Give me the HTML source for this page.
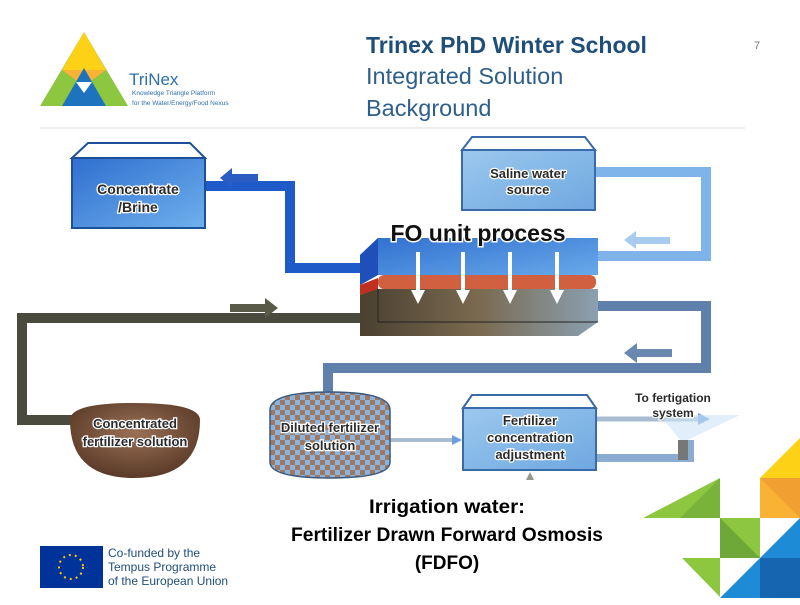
<!DOCTYPE html>
<html><head><meta charset="utf-8"><style>
body{margin:0;width:800px;height:600px;background:#fff;overflow:hidden;font-family:"Liberation Sans",sans-serif}
.lb{fill:#2a2a2a;stroke:#fff;stroke-width:2.5;paint-order:stroke;font-weight:bold}
</style></head><body>
<svg width="800" height="600" viewBox="0 0 800 600" xmlns="http://www.w3.org/2000/svg">
<defs>
<linearGradient id="bl" x1="0" y1="0" x2="1" y2="1"><stop offset="0" stop-color="#2f6fd0"/><stop offset="1" stop-color="#6fb0ec"/></linearGradient>
<linearGradient id="lb" x1="0" y1="0" x2="1" y2="1"><stop offset="0" stop-color="#9cc8ee"/><stop offset="1" stop-color="#6ea8e0"/></linearGradient>
<linearGradient id="br" x1="0" y1="0" x2="1" y2="0"><stop offset="0" stop-color="#4a4030"/><stop offset="0.5" stop-color="#7a6a50"/><stop offset="1" stop-color="#8aa0b0"/></linearGradient>
<radialGradient id="bowl" cx="0.5" cy="0.4" r="0.6"><stop offset="0" stop-color="#9a7055"/><stop offset="1" stop-color="#5a3a28"/></radialGradient>
<pattern id="chk" width="10" height="10" patternUnits="userSpaceOnUse"><rect width="10" height="10" fill="#8ab4e0"/><rect width="5" height="5" fill="#a07860"/><rect x="5" y="5" width="5" height="5" fill="#a07860"/></pattern>
</defs>
<!-- header -->
<polygon points="84,32 40,106 128,106" fill="#8dc63f"/>
<polygon points="84,32 62,70 106,70" fill="#fcd116"/>
<polygon points="62,70 106,70 84,86" fill="#f9b233"/>
<polygon points="62,106 84,68 106,106" fill="#1e73be"/>
<polygon points="76,82 92,82 84,93" fill="#fff"/>
<text x="129" y="85" font-size="17" fill="#2e6fb0">TriNex</text>
<text x="132" y="95" font-size="6.5" fill="#2e6fb0">Knowledge Triangle Platform</text>
<text x="132" y="105" font-size="6.5" fill="#2e6fb0">for the Water/Energy/Food Nexus</text>
<text x="366" y="53" font-size="23" font-weight="bold" fill="#1f4e79">Trinex PhD Winter School</text>
<text x="366" y="84" font-size="23.5" fill="#2e5f8a">Integrated Solution</text>
<text x="366" y="116" font-size="23.5" fill="#2e5f8a">Background</text>
<text x="754" y="49" font-size="11" fill="#777">7</text>
<line x1="40" y1="128" x2="745" y2="128" stroke="#ddd" stroke-width="1"/>
<!-- pipes -->
<polyline points="205,186 290,186 290,268 362,268" fill="none" stroke="#1f5bc8" stroke-width="10"/>
<polyline points="595,172 706,172 706,256 598,256" fill="none" stroke="#7fb4ea" stroke-width="10"/>
<polyline points="362,318 22,318 22,420 90,420" fill="none" stroke="#4b4a3e" stroke-width="10"/>
<polyline points="598,306 706,306 706,368 328,368 328,398" fill="none" stroke="#5f80ab" stroke-width="10"/>
<line x1="390" y1="440" x2="455" y2="440" stroke="#a8bdd0" stroke-width="4"/>
<polygon points="452,435 462,440 452,445" fill="#6a9ee0"/>
<line x1="597" y1="419" x2="700" y2="419" stroke="#a8bdd0" stroke-width="5"/>
<polygon points="698,413 710,419 698,425" fill="#6a9ee0"/>
<polyline points="597,458 690,458 690,440" fill="none" stroke="#8aacd0" stroke-width="8"/>
<!-- flow arrows -->
<rect x="232" y="174" width="26" height="8" fill="#2b5cc4"/><polygon points="232,168 220,178 232,188" fill="#2b5cc4"/>
<rect x="635" y="237" width="35" height="7" fill="#a8ccf0"/><polygon points="636,231 624,240 636,249" fill="#a8ccf0"/>
<rect x="230" y="304" width="36" height="8" fill="#5a5a48"/><polygon points="265,298 278,308 265,318" fill="#5a5a48"/>
<rect x="636" y="349" width="36" height="8" fill="#6a88b0"/><polygon points="637,343 624,353 637,363" fill="#6a88b0"/>
<!-- tanks -->
<rect x="72" y="158" width="133" height="70" fill="url(#bl)" stroke="#1e4f9a" stroke-width="2"/>
<polygon points="72,158 88,143 190,143 205,158" fill="none" stroke="#1e4f9a" stroke-width="2"/>
<text x="138" y="194" font-size="14" text-anchor="middle" class="lb">Concentrate</text>
<text x="138" y="212" font-size="14" text-anchor="middle" class="lb">/Brine</text>
<rect x="462" y="150" width="133" height="60" fill="url(#lb)" stroke="#3a6aa8" stroke-width="2"/>
<polygon points="462,150 472,137 585,137 595,150" fill="none" stroke="#3a6aa8" stroke-width="2"/>
<text x="528" y="178" font-size="13" text-anchor="middle" class="lb">Saline water</text>
<text x="528" y="194" font-size="13" text-anchor="middle" class="lb">source</text>
<!-- FO unit -->
<polygon points="360,255 378,238 598,238 598,275 378,275 360,285" fill="url(#bl)"/>
<polygon points="360,255 378,238 378,275 360,285" fill="#1f4fb8"/>
<rect x="378" y="275" width="218" height="14" rx="6" fill="#d06040"/>
<polygon points="360,285 378,278 378,290 360,295" fill="#c03020"/>
<polygon points="360,295 378,289 598,289 598,322 578,336 360,336" fill="url(#br)"/>
<line x1="378" y1="289" x2="378" y2="322" stroke="#222"/><line x1="378" y1="322" x2="598" y2="322" stroke="#222"/>
<text x="478" y="241" font-size="23" text-anchor="middle" fill="#111" stroke="#fff" stroke-width="3" paint-order="stroke" font-weight="bold">FO unit process</text>
<g fill="#fff">
<rect x="416" y="252" width="4" height="40"/><polygon points="411,290 418,304 425,290"/>
<rect x="461" y="252" width="4" height="40"/><polygon points="456,290 463,304 470,290"/>
<rect x="508" y="252" width="4" height="40"/><polygon points="503,290 510,304 517,290"/>
<rect x="555" y="252" width="4" height="40"/><polygon points="550,290 557,304 564,290"/>
</g>
<!-- bottom tanks -->
<path d="M70,420 Q70,403 134,403 Q200,403 200,420 Q200,478 134,478 Q70,478 70,420Z" fill="url(#bowl)"/>
<text x="135" y="428" font-size="13" text-anchor="middle" class="lb">Concentrated</text>
<text x="135" y="446" font-size="13" text-anchor="middle" class="lb">fertilizer solution</text>
<path d="M270,410 Q270,392 330,392 Q390,392 390,410 L390,462 Q390,478 330,478 Q270,478 270,462Z" fill="url(#chk)" stroke="#3a5a80" stroke-width="1.5"/>
<text x="330" y="432" font-size="13" text-anchor="middle" class="lb">Diluted fertilizer</text>
<text x="330" y="450" font-size="13" text-anchor="middle" class="lb">solution</text>
<rect x="463" y="408" width="133" height="62" fill="url(#lb)" stroke="#3a6aa8" stroke-width="2"/>
<polygon points="463,408 472,395 587,395 596,408" fill="none" stroke="#3a6aa8" stroke-width="2"/>
<text x="530" y="425" font-size="13" text-anchor="middle" class="lb">Fertilizer</text>
<text x="530" y="442" font-size="13" text-anchor="middle" class="lb">concentration</text>
<text x="530" y="459" font-size="13" text-anchor="middle" class="lb">adjustment</text>
<polygon points="526,480 530,472 534,480" fill="#998"/>
<polygon points="660,415 740,415 688,440 680,440" fill="#cfe4f6" opacity="0.6"/>
<text x="673" y="402" font-size="12" text-anchor="middle" class="lb">To fertigation</text>
<text x="673" y="417" font-size="12" text-anchor="middle" class="lb">system</text>
<rect x="678" y="440" width="10" height="20" fill="#777"/>
<!-- caption -->
<g font-size="19" font-weight="bold" fill="#000" text-anchor="middle">
<text x="447" y="513" textLength="156" lengthAdjust="spacingAndGlyphs">Irrigation water:</text>
<text x="447" y="541" textLength="312" lengthAdjust="spacingAndGlyphs">Fertilizer Drawn Forward Osmosis</text>
<text x="447" y="569">(FDFO)</text>
</g>
<!-- EU -->
<rect x="40" y="546" width="63" height="42" fill="#003399"/>
<circle cx="71" cy="567" r="12" fill="none" stroke="#ffcc00" stroke-width="2" stroke-dasharray="2 4"/>
<text x="108" y="557" font-size="12" fill="#1f4e79">Co-funded by the</text>
<text x="108" y="571" font-size="12" fill="#1f4e79">Tempus Programme</text>
<text x="108" y="585" font-size="12" fill="#1f4e79">of the European Union</text>
<!-- corner -->
<polygon points="643,518 720,478 720,518" fill="#8dc63f"/>
<polygon points="680,518 720,478 720,518" fill="#7ab33a"/>
<rect x="720" y="518" width="40" height="40" fill="#8dc63f"/>
<polygon points="720,518 760,558 720,558" fill="#6ea838"/>
<polygon points="682,558 720,558 720,597" fill="#8dc63f"/>
<polygon points="760,478 800,438 800,478" fill="#fcd116"/>
<rect x="760" y="478" width="40" height="40" fill="#f9b233"/>
<polygon points="760,478 800,478 800,518" fill="#f0a030"/>
<polygon points="720,598 800,518 800,598" fill="#1e8bd6"/>
<rect x="760" y="558" width="40" height="40" fill="#1565b0"/>
</svg>
</body></html>
